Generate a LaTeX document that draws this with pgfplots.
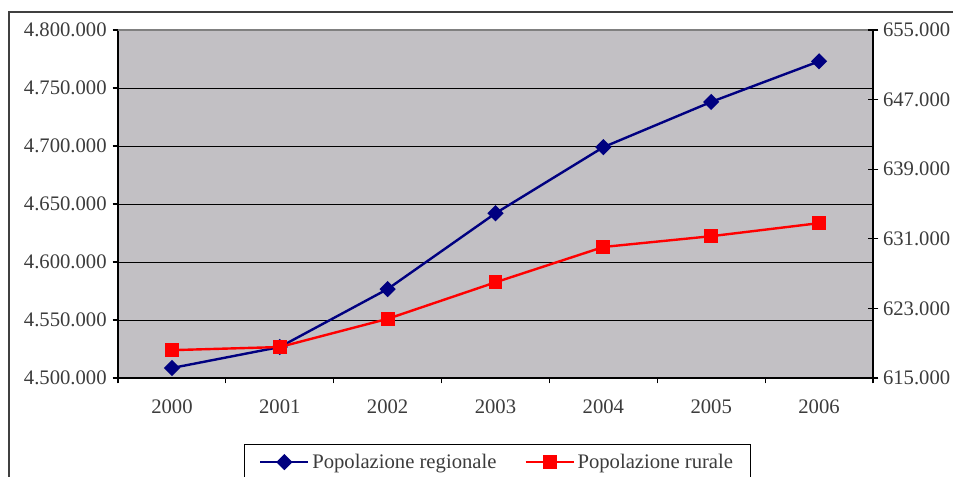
\documentclass[border=0pt]{standalone}
\usepackage{pgfplots}
\pgfplotsset{compat=1.18}
\usepackage{fontspec}
\setmainfont{Liberation Serif}
\definecolor{plotbg}{RGB}{194,192,196}
\definecolor{navyblue}{RGB}{0,0,128}
\definecolor{txt}{RGB}{60,60,60}
\begin{document}
\begin{tikzpicture}
\useasboundingbox (0,0) rectangle (714.75pt,357pt);
\draw[black!75, line width=0.8pt] (6.75pt,-10pt) -- (6.75pt,348pt) -- (730pt,348pt);
\begin{axis}[
  at={(88.5pt,73.5pt)}, anchor=south west,
  scale only axis, width=566.25pt, height=261pt,
  xmin=-0.5, xmax=6.5, ymin=4500000, ymax=4800000,
  axis background/.style={fill=plotbg},
  axis line style={black, line width=1.2pt},
  xtick={0,...,6},
  xticklabels={2000,2001,2002,2003,2004,2005,2006},
  minor xtick={-0.5,0.5,...,6.5},
  major x tick style={draw=none},
  xtick pos=left, ytick pos=left,
  tick align=outside,
  major tick length=4pt, minor tick length=4pt,
  tick style={black, line width=0.9pt},
  ytick={4500000,4550000,...,4800000},
  ymajorgrids, grid style={black, line width=0.7pt},
  scaled y ticks=false,
  /pgf/number format/fixed, /pgf/number format/1000 sep={.},
  /pgf/number format/assume math mode=true,
  yticklabel style={xshift=-1pt},
  xticklabel style={yshift=-9pt},
  ticklabel style={font=\fontsize{15.5}{17}\selectfont, text=txt},
  legend columns=2,
  legend style={at={(0.1669,-0.1897)}, anchor=north west, draw=black, line width=0.8pt,
    font=\fontsize{15.5}{17}\selectfont, text=txt, inner xsep=11pt, inner ysep=5pt,
    /tikz/every even column/.append style={column sep=19pt}},
  legend image code/.code={\draw[mark repeat=2,mark phase=2] plot coordinates {(0pt,0pt)(18pt,0pt)(36pt,0pt)};},
  after end axis/.code={\draw[black!50, line width=2pt] (rel axis cs:0,1) -- (rel axis cs:1,1);},
  clip=false,
]
\addplot[navyblue, line width=1.8pt, mark=square*, mark size=3.4pt, mark options={rotate=45, solid}]
  coordinates {(0,4508600)(1,4526700)(2,4576700)(3,4642000)(4,4699000)(5,4738000)(6,4773000)};
\addlegendentry{Popolazione regionale}
\addlegendimage{red, line width=1.8pt, mark=square*, mark size=4.3pt}
\addlegendentry{Popolazione rurale}
\end{axis}
\begin{axis}[
  at={(88.5pt,73.5pt)}, anchor=south west,
  scale only axis, width=566.25pt, height=261pt,
  xmin=-0.5, xmax=6.5, ymin=615000, ymax=655000,
  axis x line=none, axis y line*=right,
  axis line style={black, line width=1.2pt},
  tick align=center, major tick length=8pt,
  tick style={black, line width=0.9pt},
  ytick={615000,623000,...,655000},
  scaled y ticks=false,
  /pgf/number format/fixed, /pgf/number format/1000 sep={.},
  /pgf/number format/assume math mode=true,
  ticklabel style={font=\fontsize{15.5}{17}\selectfont, text=txt},
  clip=false,
]
\addplot[red, line width=1.8pt, mark=square*, mark size=4.3pt]
  coordinates {(0,618200)(1,618560)(2,621800)(3,626000)(4,630060)(5,631300)(6,632800)};
\end{axis}
\end{tikzpicture}
\end{document}
